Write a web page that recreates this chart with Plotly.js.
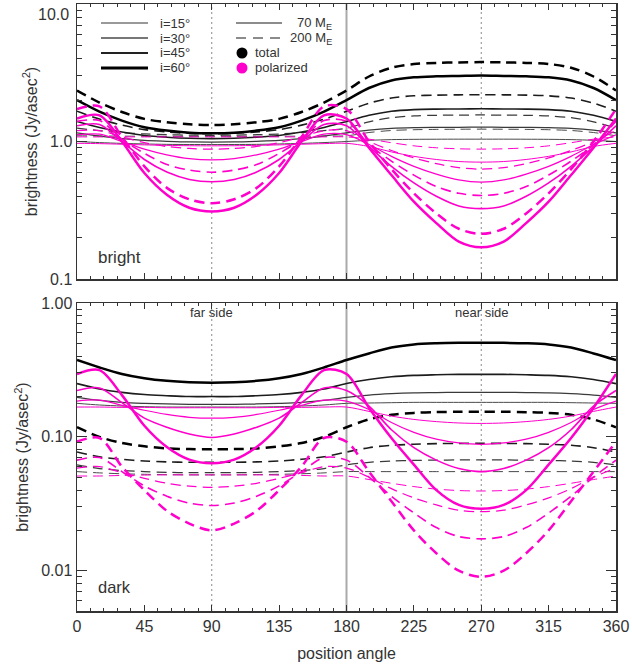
<!DOCTYPE html>
<html>
<head>
<meta charset="utf-8">
<script src="https://cdn.plot.ly/plotly-3.0.1.min.js"></script>
<style>
  html, body { margin: 0; padding: 0; background: #fff; }
  #chart { width: 632px; height: 666px; }
</style>
</head>
<body>
<div id="chart"></div>
<script>
// ---------------- data ----------------
const positionAngle = [0,15,30,45,60,75,90,105,120,135,150,165,180,195,210,225,240,255,270,285,300,315,330,345,360];

// top panel: "bright"
const brightTot70_i15 = [1.0,0.982,0.969,0.96,0.953,0.951,0.95,0.951,0.953,0.96,0.969,0.982,1.0,1.02,1.032,1.037,1.039,1.04,1.04,1.04,1.039,1.037,1.032,1.02,1.0];
const brightTot70_i30 = [1.155,1.094,1.05,1.018,1.003,0.992,0.99,0.992,1.003,1.018,1.05,1.094,1.155,1.21,1.246,1.262,1.267,1.269,1.27,1.269,1.267,1.262,1.246,1.21,1.155];
const brightTot70_i45 = [1.40,1.265,1.172,1.107,1.074,1.055,1.05,1.055,1.074,1.107,1.172,1.265,1.40,1.55,1.66,1.705,1.72,1.725,1.73,1.725,1.72,1.705,1.66,1.55,1.40];
const brightTot70_i60 = [2.0,1.65,1.42,1.27,1.2,1.16,1.15,1.16,1.2,1.27,1.42,1.65,2.0,2.45,2.78,2.93,2.98,3.0,3.02,3.0,2.98,2.93,2.78,2.45,2.0];
const brightTot200_i15 = [1.1,1.097,1.094,1.092,1.091,1.09,1.09,1.09,1.091,1.092,1.094,1.097,1.1,1.162,1.202,1.218,1.225,1.228,1.23,1.228,1.225,1.218,1.202,1.162,1.1];
const brightTot200_i30 = [1.25,1.199,1.161,1.134,1.12,1.112,1.11,1.112,1.12,1.134,1.161,1.199,1.25,1.39,1.49,1.535,1.55,1.555,1.56,1.555,1.55,1.535,1.49,1.39,1.25];
const brightTot200_i45 = [1.66,1.455,1.315,1.22,1.174,1.148,1.14,1.148,1.174,1.22,1.315,1.455,1.66,1.90,2.07,2.15,2.175,2.185,2.19,2.185,2.175,2.15,2.07,1.90,1.66];
const brightTot200_i60 = [2.35,1.92,1.64,1.46,1.38,1.335,1.32,1.335,1.38,1.46,1.64,1.92,2.35,2.97,3.44,3.66,3.73,3.76,3.78,3.76,3.73,3.66,3.44,2.97,2.35];

const brightPol70_i15 = [0.97,0.965,0.955,0.945,0.937,0.932,0.93,0.932,0.937,0.945,0.955,0.965,0.97,0.92,0.84,0.78,0.74,0.715,0.708,0.715,0.74,0.78,0.84,0.92,0.97];
const brightPol70_i30 = [1.12,1.13,1.0,0.88,0.8,0.75,0.735,0.75,0.8,0.88,1.0,1.13,1.12,0.95,0.78,0.66,0.58,0.525,0.506,0.525,0.58,0.66,0.78,0.95,1.12];
const brightPol70_i45 = [1.3,1.33,1.0,0.74,0.6,0.53,0.51,0.53,0.6,0.74,1.0,1.33,1.3,0.92,0.66,0.5,0.4,0.34,0.325,0.34,0.4,0.5,0.66,0.92,1.3];
const brightPol70_i60 = [1.47,1.55,1.0,0.59,0.41,0.33,0.31,0.33,0.41,0.59,1.0,1.55,1.47,0.9,0.57,0.365,0.255,0.187,0.17,0.187,0.255,0.365,0.57,0.9,1.47];
const brightPol200_i15 = [1.08,1.08,1.08,1.08,1.08,1.08,1.08,1.08,1.08,1.08,1.08,1.08,1.08,1.04,0.98,0.93,0.9,0.885,0.88,0.885,0.9,0.93,0.98,1.04,1.08];
const brightPol200_i30 = [1.2,1.2,1.08,0.98,0.92,0.89,0.88,0.89,0.92,0.98,1.08,1.2,1.2,1.0,0.86,0.76,0.69,0.645,0.63,0.645,0.69,0.76,0.86,1.0,1.2];
const brightPol200_i45 = [1.4,1.42,1.04,0.82,0.68,0.62,0.598,0.62,0.68,0.82,1.04,1.42,1.4,0.95,0.72,0.57,0.47,0.42,0.405,0.42,0.47,0.57,0.72,0.95,1.4];
const brightPol200_i60 = [1.72,1.8,1.08,0.66,0.46,0.38,0.356,0.38,0.46,0.66,1.08,1.8,1.72,1.0,0.63,0.42,0.3,0.232,0.213,0.232,0.3,0.42,0.63,1.0,1.72];

// bottom panel: "dark"
const darkTot70_i15 = [0.178,0.173,0.17,0.168,0.167,0.167,0.167,0.167,0.167,0.168,0.17,0.173,0.178,0.179,0.18,0.181,0.181,0.181,0.181,0.181,0.181,0.181,0.18,0.179,0.178];
const darkTot70_i30 = [0.197,0.187,0.181,0.178,0.176,0.175,0.175,0.175,0.176,0.178,0.181,0.187,0.197,0.205,0.21,0.213,0.214,0.215,0.215,0.215,0.214,0.213,0.21,0.205,0.197];
const darkTot70_i45 = [0.25,0.228,0.215,0.207,0.203,0.2,0.2,0.2,0.203,0.207,0.215,0.228,0.25,0.268,0.281,0.288,0.291,0.293,0.293,0.293,0.291,0.288,0.281,0.268,0.25];
const darkTot70_i60 = [0.375,0.33,0.295,0.274,0.262,0.256,0.254,0.256,0.262,0.274,0.295,0.33,0.375,0.42,0.465,0.49,0.5,0.504,0.505,0.504,0.5,0.49,0.465,0.42,0.375];
const darkTot200_i15 = [0.055,0.0538,0.053,0.0525,0.0522,0.052,0.052,0.052,0.0522,0.0525,0.053,0.0538,0.055,0.055,0.055,0.055,0.055,0.055,0.055,0.055,0.055,0.055,0.055,0.055,0.055];
const darkTot200_i30 = [0.0617,0.058,0.056,0.055,0.0543,0.054,0.054,0.054,0.0543,0.055,0.056,0.058,0.0617,0.0645,0.066,0.0667,0.067,0.0672,0.0672,0.0672,0.067,0.0667,0.066,0.0645,0.0617];
const darkTot200_i45 = [0.077,0.071,0.068,0.066,0.065,0.0646,0.0645,0.0646,0.065,0.066,0.068,0.071,0.077,0.083,0.0865,0.088,0.089,0.0893,0.0895,0.0893,0.089,0.088,0.0865,0.083,0.077];
const darkTot200_i60 = [0.118,0.1,0.09,0.085,0.082,0.081,0.0807,0.081,0.082,0.085,0.09,0.1,0.118,0.135,0.146,0.151,0.153,0.154,0.154,0.154,0.153,0.151,0.146,0.135,0.118];

const darkPol70_i15 = [0.167,0.167,0.166,0.166,0.165,0.165,0.165,0.165,0.165,0.166,0.166,0.167,0.167,0.155,0.143,0.135,0.13,0.127,0.126,0.127,0.13,0.135,0.143,0.155,0.167];
const darkPol70_i30 = [0.185,0.188,0.172,0.158,0.147,0.14,0.138,0.14,0.147,0.158,0.172,0.188,0.185,0.16,0.128,0.108,0.096,0.09,0.088,0.09,0.096,0.108,0.128,0.16,0.185];
const darkPol70_i45 = [0.222,0.232,0.18,0.138,0.118,0.105,0.099,0.105,0.118,0.138,0.18,0.232,0.222,0.17,0.113,0.083,0.067,0.058,0.055,0.058,0.067,0.083,0.113,0.17,0.222];
const darkPol70_i60 = [0.295,0.315,0.205,0.121,0.084,0.0676,0.0635,0.0676,0.084,0.121,0.205,0.315,0.295,0.165,0.098,0.062,0.04,0.031,0.029,0.031,0.04,0.062,0.098,0.165,0.295];
const darkPol200_i15 = [0.051,0.051,0.0515,0.0518,0.052,0.052,0.052,0.052,0.052,0.0518,0.0515,0.051,0.051,0.048,0.045,0.0425,0.0407,0.0397,0.0394,0.0397,0.0407,0.0425,0.045,0.048,0.051];
const darkPol200_i30 = [0.0585,0.06,0.054,0.049,0.045,0.0428,0.042,0.0428,0.045,0.049,0.054,0.06,0.0585,0.05,0.041,0.035,0.031,0.0283,0.0276,0.0283,0.031,0.035,0.041,0.05,0.0585];
const darkPol200_i45 = [0.067,0.07,0.055,0.043,0.036,0.032,0.0307,0.032,0.036,0.043,0.055,0.07,0.067,0.05,0.036,0.027,0.021,0.018,0.0173,0.018,0.021,0.027,0.036,0.05,0.067];
const darkPol200_i60 = [0.092,0.098,0.06,0.04,0.028,0.0225,0.020,0.0225,0.028,0.04,0.06,0.098,0.092,0.055,0.033,0.02,0.0135,0.01,0.009,0.01,0.0135,0.02,0.033,0.055,0.092];

const xTickVals = [0,45,90,135,180,225,270,315,360];
const brightTickVals = [0.1, 1];
const brightTickText = ['0.1', '1.0'];
const darkTickVals = [0.01, 0.1, 1];
const darkTickText = ['0.01', '0.10', '1.00'];
const legendIncl = ['i=15°', 'i=30°', 'i=45°', 'i=60°'];

// ---------------- styles ----------------
const FONT = 'Liberation Sans, Arial, Helvetica, sans-serif';
const TXT = '#333';
const MAG = '#ff00cc';
const widthI = [1, 1.25, 1.6, 2.5];
const blackI = ['#4a4a4a', '#3a3a3a', '#1c1c1c', '#000000'];
const DASH = '10px,6px';

function tr(y, xa, ya, color, width, dash) {
  return { x: positionAngle, y: y, xaxis: xa, yaxis: ya, mode: 'lines',
    line: { color: color, width: width, dash: dash, shape: 'spline', smoothing: 0.9 },
    hoverinfo: 'skip', showlegend: false };
}

const traces = [];
const bT70 = [brightTot70_i15, brightTot70_i30, brightTot70_i45, brightTot70_i60];
const bT200 = [brightTot200_i15, brightTot200_i30, brightTot200_i45, brightTot200_i60];
const bP70 = [brightPol70_i15, brightPol70_i30, brightPol70_i45, brightPol70_i60];
const bP200 = [brightPol200_i15, brightPol200_i30, brightPol200_i45, brightPol200_i60];
const dT70 = [darkTot70_i15, darkTot70_i30, darkTot70_i45, darkTot70_i60];
const dT200 = [darkTot200_i15, darkTot200_i30, darkTot200_i45, darkTot200_i60];
const dP70 = [darkPol70_i15, darkPol70_i30, darkPol70_i45, darkPol70_i60];
const dP200 = [darkPol200_i15, darkPol200_i30, darkPol200_i45, darkPol200_i60];

for (let k = 0; k < 4; k++) {
  traces.push(tr(bT70[k], 'x', 'y', blackI[k], widthI[k], 'solid'));
  traces.push(tr(bT200[k], 'x', 'y', blackI[k], widthI[k], DASH));
  traces.push(tr(dT70[k], 'x2', 'y2', blackI[k], widthI[k], 'solid'));
  traces.push(tr(dT200[k], 'x2', 'y2', blackI[k], widthI[k], DASH));
}
for (let k = 0; k < 4; k++) {
  traces.push(tr(bP70[k], 'x', 'y', MAG, widthI[k], 'solid'));
  traces.push(tr(bP200[k], 'x', 'y', MAG, widthI[k], DASH));
  traces.push(tr(dP70[k], 'x2', 'y2', MAG, widthI[k], 'solid'));
  traces.push(tr(dP200[k], 'x2', 'y2', MAG, widthI[k], DASH));
}

// minor tick positions for log axes
function logMinor(lo, hi) {
  const out = [];
  for (let e = lo; e < hi; e++) for (let m = 2; m <= 9; m++) out.push(m * Math.pow(10, e));
  return out;
}

const axLine = { showline: true, linecolor: '#333', linewidth: 1.5, mirror: 'ticks', zeroline: false, showgrid: false };
const xCommon = Object.assign({}, axLine, {
  range: [0, 360], tickmode: 'array', tickvals: xTickVals, ticks: 'inside', ticklen: 6, tickwidth: 1, tickcolor: '#333',
  minor: { ticks: 'inside', ticklen: 3, dtick: 9, tick0: 0, tickcolor: '#333', showgrid: false },
  tickfont: { family: FONT, size: 16, color: TXT }
});
const yCommon = Object.assign({}, axLine, {
  type: 'log', tickmode: 'array', ticks: 'inside', ticklen: 10, tickwidth: 1, tickcolor: '#333',
  tickfont: { family: FONT, size: 16, color: TXT }
});

// pixel helpers for paper coordinates (plot area: x 77..616, y 4..611)
const L = 77, R = 616, T = 4, B = 611;
const px = v => (v - L) / (R - L);
const py = v => (B - v) / (B - T);

const shapes = [];
[['x', 'y'], ['x2', 'y2']].forEach(([xa, ya]) => {
  shapes.push({ type: 'line', xref: xa, yref: ya + ' domain', x0: 180, x1: 180, y0: 0, y1: 1, line: { color: '#aaaaaa', width: 2 }, layer: 'below' });
  [90, 270].forEach(v => shapes.push({ type: 'line', xref: xa, yref: ya + ' domain', x0: v, x1: v, y0: 0, y1: 1, line: { color: '#8a8a8a', width: 1, dash: '2px,3px' }, layer: 'below' }));
});

// legend
const legY = [23, 38, 53, 68];
const annotations = [];
for (let k = 0; k < 4; k++) {
  shapes.push({ type: 'line', xref: 'paper', yref: 'paper', x0: px(101), x1: px(148), y0: py(legY[k]), y1: py(legY[k]), line: { color: k < 2 ? '#777' : (k === 2 ? '#222' : '#000'), width: widthI[k] + (k < 2 ? 0.6 : 0.3) } });
  annotations.push({ xref: 'paper', yref: 'paper', x: px(158), y: py(legY[k]), xanchor: 'left', yanchor: 'middle', showarrow: false, text: legendIncl[k], font: { family: FONT, size: 13, color: TXT } });
}
shapes.push({ type: 'line', xref: 'paper', yref: 'paper', x0: px(236), x1: px(282), y0: py(23), y1: py(23), line: { color: '#666', width: 1.5 } });
shapes.push({ type: 'line', xref: 'paper', yref: 'paper', x0: px(236), x1: px(282), y0: py(38), y1: py(38), line: { color: '#666', width: 1.5, dash: '10px,7px' } });
annotations.push({ xref: 'paper', yref: 'paper', x: px(334), y: py(23), xanchor: 'right', yanchor: 'middle', showarrow: false, text: '70 M<sub>E</sub>', font: { family: FONT, size: 13, color: TXT } });
annotations.push({ xref: 'paper', yref: 'paper', x: px(334), y: py(38), xanchor: 'right', yanchor: 'middle', showarrow: false, text: '200 M<sub>E</sub>', font: { family: FONT, size: 13, color: TXT } });
[[53, '#000'], [68, MAG]].forEach(([yy, c]) => shapes.push({ type: 'circle', xref: 'paper', yref: 'paper', xsizemode: 'pixel', ysizemode: 'pixel', xanchor: px(242), yanchor: py(yy), x0: -5.5, x1: 5.5, y0: -5.5, y1: 5.5, fillcolor: c, line: { width: 0 } }));
annotations.push({ xref: 'paper', yref: 'paper', x: px(253), y: py(53), xanchor: 'left', yanchor: 'middle', showarrow: false, text: 'total', font: { family: FONT, size: 13, color: TXT } });
annotations.push({ xref: 'paper', yref: 'paper', x: px(253), y: py(68), xanchor: 'left', yanchor: 'middle', showarrow: false, text: 'polarized', font: { family: FONT, size: 13, color: TXT } });

// panel labels
annotations.push({ xref: 'paper', yref: 'paper', x: px(96), y: py(257), xanchor: 'left', yanchor: 'middle', showarrow: false, text: 'bright', font: { family: FONT, size: 17, color: TXT } });
annotations.push({ xref: 'paper', yref: 'paper', x: px(96), y: py(587), xanchor: 'left', yanchor: 'middle', showarrow: false, text: 'dark', font: { family: FONT, size: 16.5, color: TXT } });
annotations.push({ xref: 'x2', yref: 'paper', x: 90, y: py(312), xanchor: 'center', yanchor: 'middle', showarrow: false, text: 'far side', font: { family: FONT, size: 13, color: TXT } });
annotations.push({ xref: 'x2', yref: 'paper', x: 270, y: py(312), xanchor: 'center', yanchor: 'middle', showarrow: false, text: 'near side', font: { family: FONT, size: 13, color: TXT } });
// top label of the upper axis (drawn slightly below the axis top as in the original)
annotations.push({ xref: 'paper', yref: 'paper', x: px(71), y: py(14), xanchor: 'right', yanchor: 'middle', showarrow: false, text: '10.0', font: { family: FONT, size: 16, color: TXT } });

const layout = {
  width: 632, height: 666,
  margin: { l: L, r: 632 - R, t: T, b: 666 - B },
  paper_bgcolor: '#fff', plot_bgcolor: '#fff',
  font: { family: FONT, color: TXT },
  showlegend: false,
  xaxis: Object.assign({}, xCommon, { anchor: 'y', domain: [0, 1], showticklabels: false }),
  xaxis2: Object.assign({}, xCommon, { anchor: 'y2', domain: [0, 1], showticklabels: true,
    title: { text: 'position angle', font: { family: FONT, size: 16, color: TXT }, standoff: 14 } }),
  yaxis: Object.assign({}, yCommon, { anchor: 'x', domain: [py(279), 1], range: [-1, 1],
    tickvals: brightTickVals, ticktext: brightTickText,
    minor: { tickmode: 'array', tickvals: logMinor(-1, 1), ticks: 'inside', ticklen: 5, tickcolor: '#333', showgrid: false },
    title: { text: 'brightness (Jy/asec<sup>2</sup>)', font: { family: FONT, size: 16, color: TXT }, standoff: 8 } }),
  yaxis2: Object.assign({}, yCommon, { anchor: 'x2', domain: [0, py(303)], range: [Math.log10(0.005), 0],
    tickvals: darkTickVals, ticktext: darkTickText,
    minor: { tickmode: 'array', tickvals: logMinor(-3, 0).filter(v => v >= 0.005), ticks: 'inside', ticklen: 5, tickcolor: '#333', showgrid: false },
    title: { text: 'brightness (Jy/asec<sup>2</sup>)', font: { family: FONT, size: 16, color: TXT }, standoff: 8 } }),
  shapes: shapes,
  annotations: annotations
};

Plotly.newPlot('chart', traces, layout, { displayModeBar: false, staticPlot: true });
</script>
</body>
</html>
